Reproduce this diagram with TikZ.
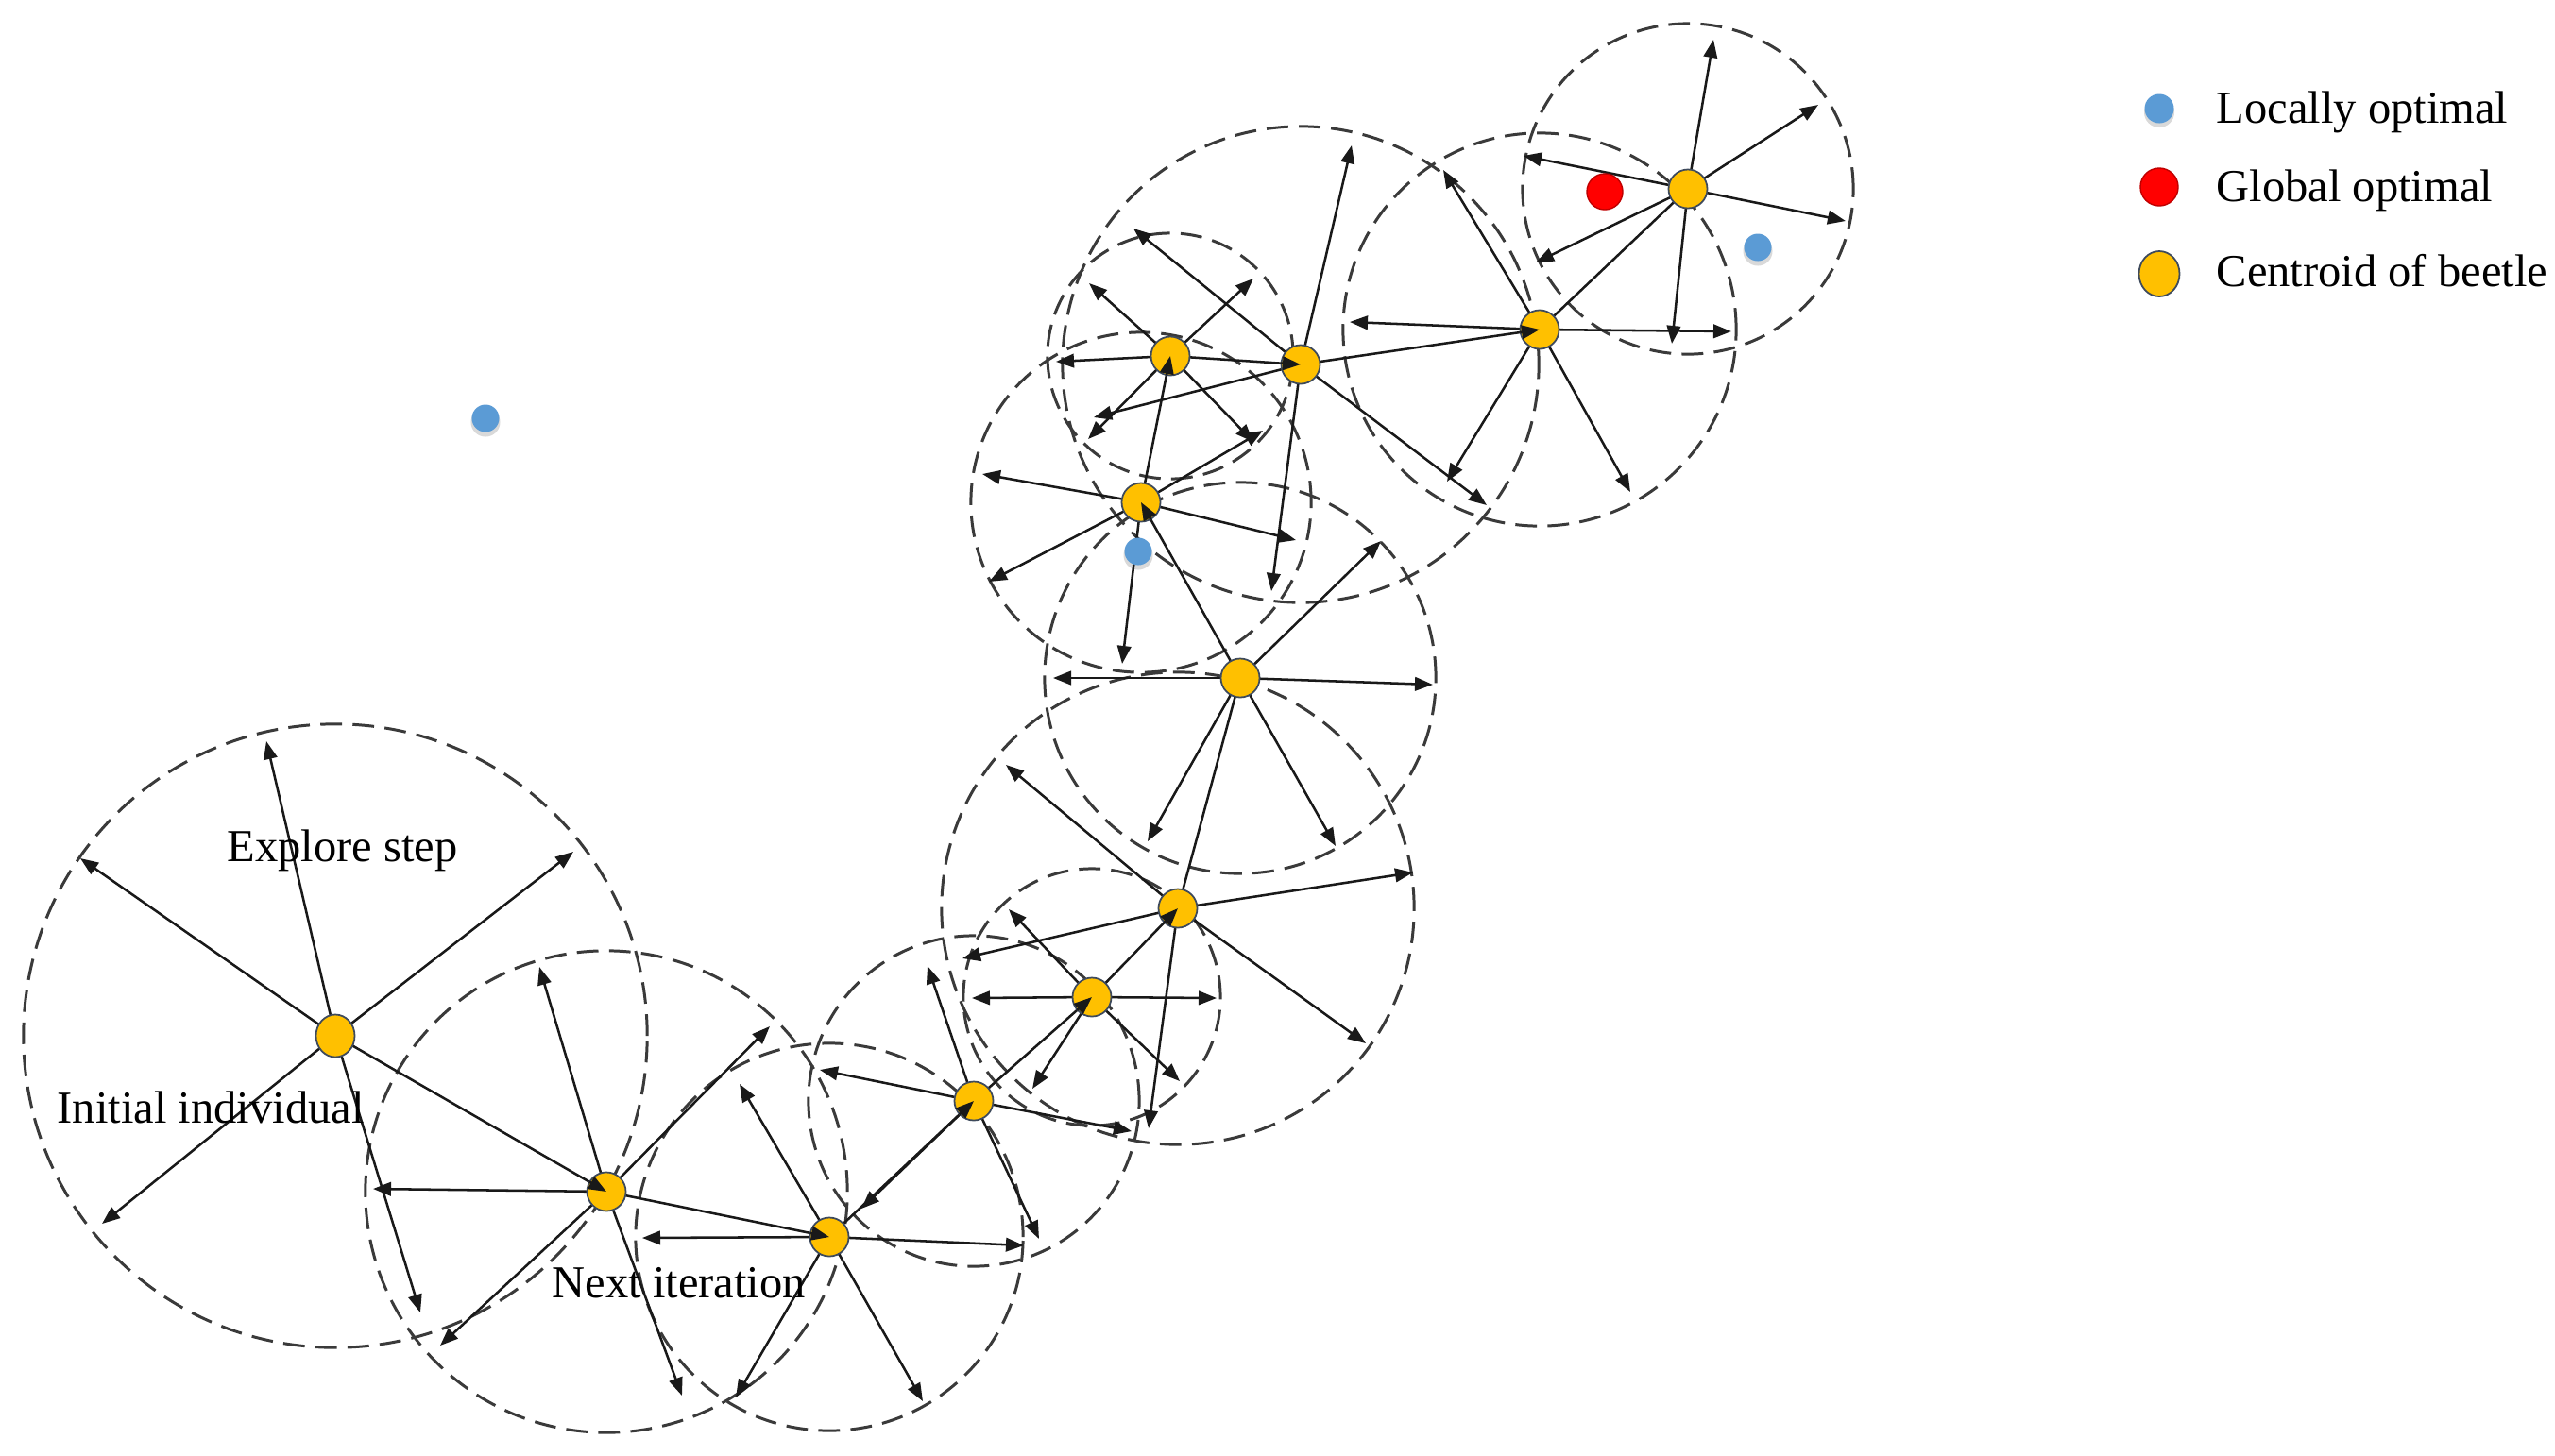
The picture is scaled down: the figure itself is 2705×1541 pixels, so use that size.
\documentclass[tikz,border=0pt]{standalone}
\usepackage{fontspec}
\setmainfont{Liberation Serif}
\usetikzlibrary{arrows.meta,calc,shapes.geometric}
\definecolor{beetle}{HTML}{FFC000}
\definecolor{dotline}{HTML}{3E4A5C}
\definecolor{localopt}{HTML}{5B9BD5}
\definecolor{globopt}{HTML}{FF0000}
\definecolor{globline}{HTML}{C00000}
\definecolor{circgray}{HTML}{3A3A3A}
\begin{document}
\begin{tikzpicture}[x=0.01cm,y=-0.01cm,
  searchring/.style={draw=circgray, line width=0.85pt, dash pattern=on 6.5pt off 3.2pt},
  probearrow/.style={draw=black!90, line width=0.72pt, -{Triangle[length=0.19cm,width=0.145cm]}},
  chainline/.style={draw=black!90, line width=0.72pt},
  beetledot/.style={circle, fill=beetle, draw=dotline, line width=0.5pt, inner sep=0pt, minimum size=0.41cm},
  localdot/.style={circle, fill=localopt, inner sep=0pt, minimum size=0.29cm},
  globaldot/.style={circle, fill=globopt, draw=globline, line width=0.4pt, inner sep=0pt, minimum size=0.38cm},
  lbl/.style={anchor=base west, inner sep=0pt, font=\fontsize{13.8pt}{16pt}\selectfont}
]
\useasboundingbox (0,0) rectangle (2705,1541);
\fill[white] (0,0) rectangle (2705,1541);

% beetle centres
\coordinate (c1) at (355,1097);
\coordinate (c2) at (642,1262);
\coordinate (c3) at (878,1310);
\coordinate (c4) at (1031,1166);
\coordinate (c5) at (1156,1056);
\coordinate (c6) at (1247,962);
\coordinate (c7) at (1313,718);
\coordinate (c8) at (1208,532);
\coordinate (c9) at (1239,377);
\coordinate (c10) at (1377,386);
\coordinate (c11) at (1630,349);
\coordinate (c12) at (1787,200);

% search ranges
\draw[searchring] (c1) circle[radius=3.30cm];
\draw[searchring] (c2) circle[radius=2.55cm];
\draw[searchring] (c3) circle[radius=2.05cm];
\draw[searchring] (c4) circle[radius=1.75cm];
\draw[searchring] (c5) circle[radius=1.36cm];
\draw[searchring] (c6) circle[radius=2.50cm];
\draw[searchring] (c7) circle[radius=2.07cm];
\draw[searchring] (c8) circle[radius=1.80cm];
\draw[searchring] (c9) circle[radius=1.30cm];
\draw[searchring] (c10) circle[radius=2.52cm];
\draw[searchring] (c11) circle[radius=2.08cm];
\draw[searchring] (c12) circle[radius=1.75cm];

% explore arrows
\foreach \x/\y [count=\k] in {282/785, 85/909, 607/902, 108/1296, 445/1390}
  {\coordinate (t1-\k) at (\x,\y); \draw[probearrow] (c1) -- (t1-\k);}
\foreach \x/\y [count=\k] in {571/1024, 815/1087, 395/1259, 466/1425, 722/1478}
  {\coordinate (t2-\k) at (\x,\y); \draw[probearrow] (c2) -- (t2-\k);}
\foreach \x/\y [count=\k] in {783/1148, 680/1311, 779/1480, 977/1484, 1084/1319}
  {\coordinate (t3-\k) at (\x,\y); \draw[probearrow] (c3) -- (t3-\k);}
\foreach \x/\y [count=\k] in {982/1023, 868/1133, 912/1280, 1198/1198, 1100/1312}
  {\coordinate (t4-\k) at (\x,\y); \draw[probearrow] (c4) -- (t4-\k);}
\foreach \x/\y [count=\k] in {1068/963, 1029/1057, 1288/1057, 1249/1145, 1093/1153}
  {\coordinate (t5-\k) at (\x,\y); \draw[probearrow] (c5) -- (t5-\k);}
\foreach \x/\y [count=\k] in {1065/810, 1019/1015, 1496/924, 1446/1105, 1216/1195}
  {\coordinate (t6-\k) at (\x,\y); \draw[probearrow] (c6) -- (t6-\k);}
\foreach \x/\y [count=\k] in {1462/573, 1115/718, 1517/725, 1215/891, 1414/896}
  {\coordinate (t7-\k) at (\x,\y); \draw[probearrow] (c7) -- (t7-\k);}
\foreach \x/\y [count=\k] in {1040/502, 1047/616, 1188/703, 1372/572, 1337/456}
  {\coordinate (t8-\k) at (\x,\y); \draw[probearrow] (c8) -- (t8-\k);}
\foreach \x/\y [count=\k] in {1153/300, 1327/295, 1118/383, 1152/465, 1327/468}
  {\coordinate (t9-\k) at (\x,\y); \draw[probearrow] (c9) -- (t9-\k);}
\foreach \x/\y [count=\k] in {1431/154, 1200/242, 1158/442, 1574/535, 1346/626}
  {\coordinate (t10-\k) at (\x,\y); \draw[probearrow] (c10) -- (t10-\k);}
\foreach \x/\y [count=\k] in {1429/341, 1528/180, 1532/510, 1726/521, 1833/351}
  {\coordinate (t11-\k) at (\x,\y); \draw[probearrow] (c11) -- (t11-\k);}
\foreach \x/\y [count=\k] in {1814/42, 1925/111, 1954/234, 1613/165, 1626/278, 1770/364}
  {\coordinate (t12-\k) at (\x,\y); \draw[probearrow] (c12) -- (t12-\k);}

% iteration path
\foreach \a/\b in {c1/c2, c2/c3, c3/c4, c4/c5, c5/c6, c6/c7, c7/c8, c8/c9, c9/c10, c10/c11, c11/c12}
  \draw[chainline] (\a) -- (\b);

% optima
\node[globaldot] (gopt) at (1699,203) {};
\foreach \x/\y [count=\k] in {514/443, 1205/584, 1861/262} {
  \fill[black, opacity=0.15] (\x,\y+4) circle[radius=0.155cm];
  \node[localdot] (lopt\k) at (\x,\y) {};
}

% beetles
\node[ellipse, fill=beetle, draw=dotline, line width=0.5pt, inner sep=0pt, minimum width=0.41cm, minimum height=0.45cm] (b1) at (c1) {};
\foreach \k in {2,...,12} \node[beetledot] (b\k) at (c\k) {};

% arrowheads arriving at the next centroid
\foreach \a/\b in {c1/c2, c2/c3, c3/c4, c4/c5, c5/c6, c7/c8, c8/c9, c9/c10, c10/c11}
  \draw[probearrow] ($(\b)!0.21cm!(\a)$) -- (\b);

% labels
\node[lbl] (explore) at (240,912) {Explore step};
\node[lbl] (initial) at (60,1189) {Initial individual};
\node[lbl] (next) at (584,1374) {Next iteration};

% legend
\fill[black, opacity=0.15] (2286,119) circle[radius=0.16cm];
\node[circle, fill=localopt, inner sep=0pt, minimum width=0.31cm] (legL) at (2286,115) {};
\node[globaldot, minimum size=0.40cm] (legG) at (2286,198) {};
\node[ellipse, fill=beetle, draw=dotline, line width=0.5pt, inner sep=0pt, minimum width=0.43cm, minimum height=0.48cm] (legC) at (2286,290) {};
\node[lbl] (txtL) at (2346,130) {Locally optimal};
\node[lbl] (txtG) at (2346,213) {Global optimal};
\node[lbl] (txtC) at (2346,303) {Centroid of beetle};
\end{tikzpicture}
\end{document}
